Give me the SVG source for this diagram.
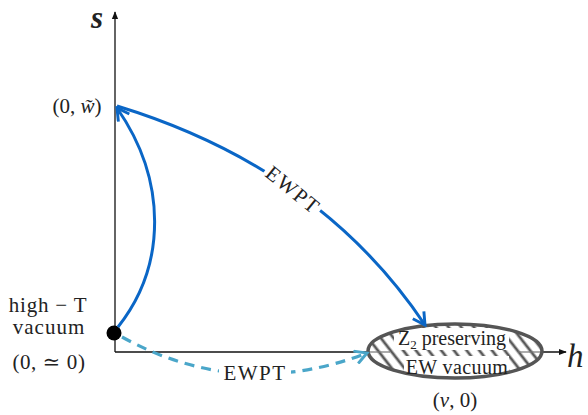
<svg xmlns="http://www.w3.org/2000/svg" width="588" height="415" viewBox="0 0 588 415">
<style>
.t{font-family:"Liberation Serif","Times New Roman","DejaVu Serif",serif;fill:#222;}
.ax{stroke:#111;stroke-width:1.3;fill:none;}
.blue{stroke:#0a66c6;stroke-width:3;fill:none;}
.dash{stroke:#4aa6c9;stroke-width:3.2;fill:none;stroke-dasharray:10 7;}
</style>
<defs>
<marker id="axArr" viewBox="0 0 10 10" refX="9" refY="5" markerWidth="8" markerHeight="8" markerUnits="userSpaceOnUse" orient="auto">
<path d="M0,1 L10,5 L0,9 Z" fill="#111"/>
</marker>
<marker id="bArr" viewBox="0 0 12 12" refX="10" refY="6" markerWidth="16" markerHeight="16" markerUnits="userSpaceOnUse" orient="auto">
<path d="M1,1 L10,6 L1,11" fill="none" stroke="#0a66c6" stroke-width="2.2"/>
</marker>
<marker id="cArr" viewBox="0 0 12 12" refX="10" refY="6" markerWidth="16" markerHeight="16" markerUnits="userSpaceOnUse" orient="auto">
<path d="M1,1 L10,6 L1,11" fill="none" stroke="#4aa6c9" stroke-width="2.2"/>
</marker>
<pattern id="hatch" width="10" height="10" patternUnits="userSpaceOnUse" patternTransform="rotate(-38)">
<rect width="10" height="10" fill="#fff"/>
<line x1="2" y1="0" x2="2" y2="10" stroke="#5a5a5a" stroke-width="2.8"/>
</pattern>
<clipPath id="ellClip">
<ellipse cx="455" cy="351" rx="87" ry="27"/>
</clipPath>
</defs>

<g id="axes">
<line class="ax" x1="115" y1="352" x2="115" y2="12" marker-end="url(#axArr)"/>
<line class="ax" x1="115" y1="352" x2="566" y2="352" stroke="#444" marker-end="url(#axArr)"/>
<text class="t" x="91" y="28" font-size="31" font-style="italic" font-weight="bold" fill="#111">s</text>
<text class="t" x="567" y="367" font-size="33" font-style="italic" fill="#111">h</text>
</g>

<g id="ew-vacuum">
<ellipse cx="455" cy="351" rx="87" ry="27" fill="url(#hatch)"/>
<line x1="369" y1="352" x2="390" y2="352" stroke="#777" stroke-width="1.2"/>
<line x1="518" y1="352" x2="541" y2="352" stroke="#777" stroke-width="1.2"/>
<g clip-path="url(#ellClip)" fill="#fff">
<rect x="394" y="328" width="115" height="22"/>
<rect x="404" y="356" width="105" height="23"/>
</g>
<ellipse cx="455" cy="351" rx="87" ry="27" fill="none" stroke="#555" stroke-width="3.5"/>
<text class="t" x="452" y="345" font-size="20" text-anchor="middle">Z<tspan font-size="13" dy="4">2</tspan><tspan dy="-4"> preserving</tspan></text>
<text class="t" x="457" y="374" font-size="20" text-anchor="middle" letter-spacing="0.4">EW vacuum</text>
<text class="t" x="455" y="407" font-size="21" text-anchor="middle">(<tspan font-style="italic">v</tspan>, 0)</text>
</g>

<g id="high-T-vacuum">
<circle cx="114" cy="333" r="7.5" fill="#000"/>
<text class="t" x="48" y="312" font-size="21" text-anchor="middle" letter-spacing="0.8">high − T</text>
<text class="t" x="49" y="334" font-size="21" text-anchor="middle" letter-spacing="1">vacuum</text>
<text class="t" x="49" y="369" font-size="21" text-anchor="middle" letter-spacing="0.6">(0, ≃ 0)</text>
</g>

<g id="w-point">
<text class="t" x="77" y="113" font-size="21" text-anchor="middle">(0, <tspan font-style="italic">w̃</tspan>)</text>
</g>

<g id="connectors">
<path class="blue" d="M118,327 C167,265 167,180 117,108" marker-end="url(#bArr)"/>
<path class="blue" d="M117,106 Q320,168 425,325" marker-end="url(#bArr)"/>
<g transform="translate(293,190) rotate(39)">
<rect x="-34" y="-12" width="68" height="24" fill="#fff"/>
<text class="t" x="0" y="7" font-size="21" text-anchor="middle" letter-spacing="1.5">EWPT</text>
</g>
<path class="dash" d="M122,337 Q240,402 367,353" marker-end="url(#cArr)"/>
<rect x="219" y="361" width="72" height="24" fill="#fff"/>
<text class="t" x="255" y="380" font-size="21" text-anchor="middle" letter-spacing="1.5">EWPT</text>
</g>
</svg>
